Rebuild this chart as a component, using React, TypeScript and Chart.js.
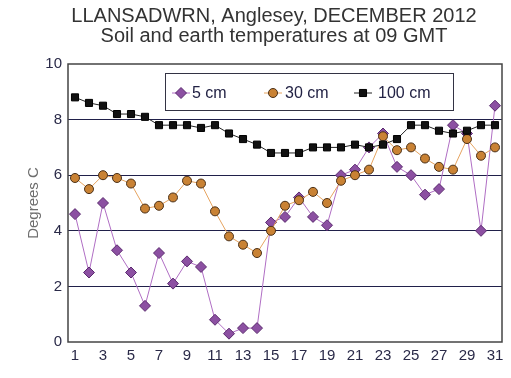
import React, { useEffect, useRef } from 'react';
import { Chart, registerables } from 'chart.js';

Chart.register(...registerables);

const FONT = '"Liberation Sans", Arial, Helvetica, sans-serif';

const titleLines = ['LLANSADWRN, Anglesey, DECEMBER 2012', 'Soil and earth temperatures at 09 GMT'];
const yAxisTitle = 'Degrees C';

const days = ['1', '2', '3', '4', '5', '6', '7', '8', '9', '10', '11', '12', '13', '14', '15', '16',
  '17', '18', '19', '20', '21', '22', '23', '24', '25', '26', '27', '28', '29', '30', '31'];

const seriesNames = ['5 cm', '30 cm', '100 cm'];

const cm5 = [4.6, 2.5, 5.0, 3.3, 2.5, 1.3, 3.2, 2.1, 2.9, 2.7, 0.8, 0.3, 0.5, 0.5, 4.3, 4.5,
  5.2, 4.5, 4.2, 6.0, 6.2, 7.0, 7.5, 6.3, 6.0, 5.3, 5.5, 7.8, 7.5, 4.0, 8.5];
const cm30 = [5.9, 5.5, 6.0, 5.9, 5.7, 4.8, 4.9, 5.2, 5.8, 5.7, 4.7, 3.8, 3.5, 3.2, 4.0, 4.9,
  5.1, 5.4, 5.0, 5.8, 6.0, 6.2, 7.4, 6.9, 7.0, 6.6, 6.3, 6.2, 7.3, 6.7, 7.0];
const cm100 = [8.8, 8.6, 8.5, 8.2, 8.2, 8.1, 7.8, 7.8, 7.8, 7.7, 7.8, 7.5, 7.3, 7.1, 6.8, 6.8,
  6.8, 7.0, 7.0, 7.0, 7.1, 7.0, 7.1, 7.3, 7.8, 7.8, 7.6, 7.5, 7.6, 7.8, 7.8];

const yMin = 0;
const yMax = 10;
const yStep = 2;

const styles = [
  { line: '#b06ec4', fill: '#8c50a2', edge: '#5a2a6e', shape: 'rectRot', r: 5.5 },
  { line: '#e6a460', fill: '#c98234', edge: '#4a3018', shape: 'circle', r: 4.5 },
  { line: '#222222', fill: '#111111', edge: '#000000', shape: 'rect', r: 5 },
];

function drawMarker(ctx: CanvasRenderingContext2D, shape: string, x: number, y: number, r: number) {
  ctx.beginPath();
  if (shape === 'rectRot') {
    ctx.moveTo(x - r, y);
    ctx.lineTo(x, y - r);
    ctx.lineTo(x + r, y);
    ctx.lineTo(x, y + r);
    ctx.closePath();
  } else if (shape === 'circle') {
    ctx.arc(x, y, r, 0, Math.PI * 2);
  } else {
    const s = r * Math.SQRT1_2;
    ctx.rect(x - s, y - s, 2 * s, 2 * s);
  }
  ctx.fill();
  ctx.stroke();
}

export default function App() {
  const ref = useRef<HTMLCanvasElement>(null);

  useEffect(() => {
    const canvas = ref.current;
    if (!canvas) return;

    const titlePlugin = {
      id: 'titleLines',
      afterDraw(chart: any) {
        const ctx = chart.ctx;
        ctx.save();
        ctx.font = `20px ${FONT}`;
        ctx.fillStyle = '#333333';
        ctx.textAlign = 'center';
        ctx.textBaseline = 'alphabetic';
        ctx.fillText(titleLines[0], 274, 22);
        ctx.fillText(titleLines[1], 274, 42);
        ctx.restore();
      },
    };

    const framePlugin = {
      id: 'frame',
      beforeDatasetsDraw(chart: any) {
        const { left, right, top, bottom } = chart.chartArea;
        const ctx = chart.ctx;
        ctx.save();
        ctx.strokeStyle = '#444444';
        ctx.lineWidth = 1.5;
        ctx.strokeRect(left, top, right - left, bottom - top);
        ctx.restore();
      },
    };

    const legendPlugin = {
      id: 'boxLegend',
      afterDatasetsDraw(chart: any) {
        const ctx = chart.ctx;
        ctx.save();
        ctx.fillStyle = '#ffffff';
        ctx.fillRect(165, 73, 288, 37);
        ctx.strokeStyle = '#333344';
        ctx.lineWidth = 1;
        ctx.strokeRect(165.5, 73.5, 288, 37);
        const mx = [181, 273, 363];
        const tx = [192, 285, 378];
        const y = 93;
        ctx.font = `16px ${FONT}`;
        ctx.textBaseline = 'middle';
        ctx.textAlign = 'left';
        seriesNames.forEach((name, i) => {
          const st = styles[i];
          ctx.strokeStyle = st.line;
          ctx.lineWidth = 1;
          ctx.beginPath();
          ctx.moveTo(mx[i] - 9, y);
          ctx.lineTo(mx[i] + 9, y);
          ctx.stroke();
          ctx.fillStyle = st.fill;
          ctx.strokeStyle = st.edge;
          drawMarker(ctx, st.shape, mx[i], y, st.r);
          ctx.fillStyle = '#222244';
          ctx.fillText(name, tx[i], y + 1);
        });
        ctx.restore();
      },
    };

    const values = [cm5, cm30, cm100];
    const orders = [2, 1, 0];

    const chart = new Chart(canvas, {
      type: 'line',
      data: {
        labels: days,
        datasets: values.map((v, i) => ({
          label: seriesNames[i],
          data: v,
          order: orders[i],
          borderColor: styles[i].line,
          borderWidth: 1,
          pointStyle: styles[i].shape as any,
          pointRadius: styles[i].r,
          pointBackgroundColor: styles[i].fill,
          pointBorderColor: styles[i].edge,
          pointBorderWidth: 1,
          tension: 0,
          fill: false,
        })),
      },
      options: {
        responsive: false,
        animation: false,
        layout: { padding: { left: 0, right: 9, top: 64, bottom: 0 } },
        plugins: {
          legend: { display: false },
          title: { display: false },
          tooltip: { enabled: false },
        },
        scales: {
          x: {
            type: 'category',
            offset: true,
            grid: { display: false, drawTicks: false },
            border: { display: false },
            ticks: {
              autoSkip: false,
              maxRotation: 0,
              padding: 5,
              color: '#2a2a48',
              font: { family: FONT, size: 15 },
              callback: (_v: any, idx: number) => (idx % 2 === 0 ? days[idx] : ''),
            },
            afterFit: (s: any) => { s.height = 36; },
          },
          y: {
            min: yMin,
            max: yMax,
            grid: {
              drawTicks: false,
              color: (c: any) => (c.tick && (c.tick.value === yMin || c.tick.value === yMax) ? 'rgba(0,0,0,0)' : '#20204a'),
              lineWidth: 1,
            },
            border: { display: false },
            ticks: {
              stepSize: yStep,
              padding: 6,
              color: '#2a2a48',
              font: { family: FONT, size: 15 },
            },
            title: {
              display: true,
              text: yAxisTitle,
              color: '#6e6e6e',
              font: { family: FONT, size: 15 },
              padding: { top: 25, bottom: 0 },
            },
            afterFit: (s: any) => { s.width = 68; },
          },
        },
      },
      plugins: [framePlugin, legendPlugin, titlePlugin],
    });

    return () => chart.destroy();
  }, []);

  return (
    <div style={{ position: 'absolute', left: 0, top: 0, width: 511, height: 378, background: '#ffffff' }}>
      <canvas ref={ref} width={511} height={378} />
    </div>
  );
}
